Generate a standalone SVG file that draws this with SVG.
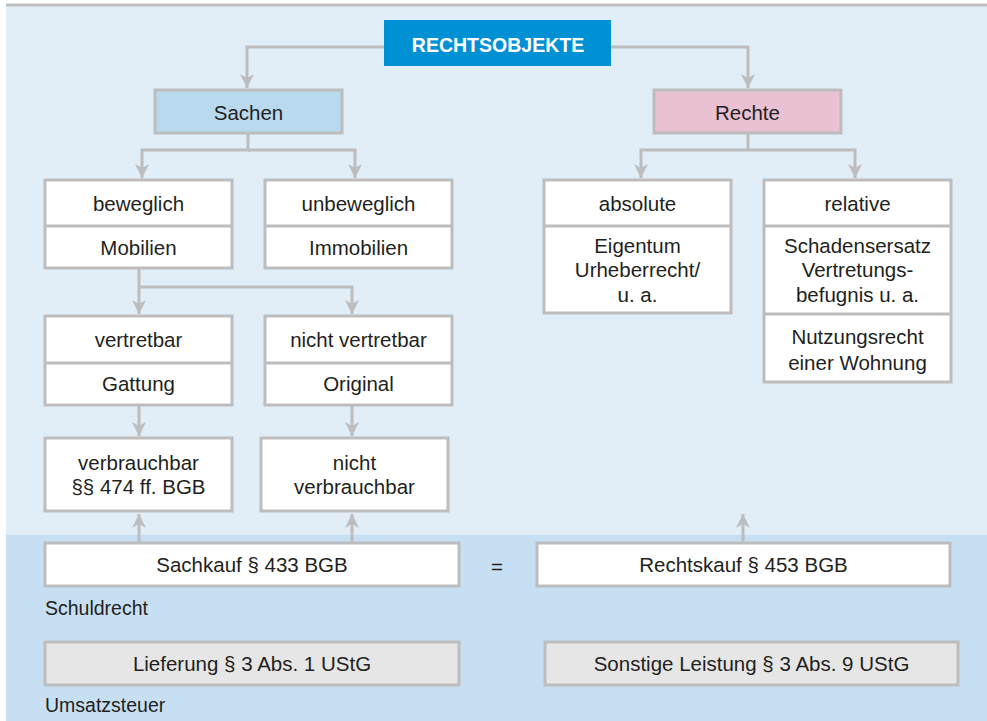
<svg xmlns="http://www.w3.org/2000/svg" width="987" height="721" viewBox="0 0 987 721">
<defs>
<style>
.t{font-family:"Liberation Sans",Arial,sans-serif;font-size:20.5px;fill:#231f20;text-anchor:middle}
.l{font-family:"Liberation Sans",Arial,sans-serif;font-size:19.5px;fill:#231f20}
.b{fill:#fff;stroke:#bdbdbd;stroke-width:3}
.g{fill:#e6e6e6;stroke:#bdbdbd;stroke-width:3}
.c{fill:none;stroke:#bdbdbd;stroke-width:3}
</style>
<marker id="dn" markerWidth="14" markerHeight="16" viewBox="0 0 14 16" refX="7" refY="16" orient="0" markerUnits="userSpaceOnUse">
<path d="M0,2 L7,6 L14,2 L7,16 Z" fill="#bdbdbd"/>
</marker>
<marker id="up" markerWidth="14" markerHeight="16" viewBox="0 0 14 16" refX="7" refY="0" orient="0" markerUnits="userSpaceOnUse">
<path d="M0,14 L7,10 L14,14 L7,0 Z" fill="#bdbdbd"/>
</marker>
</defs>
<rect x="0" y="0" width="987" height="721" fill="#fff"/>
<rect x="6" y="6" width="981" height="530" fill="#e1eef8"/>
<rect x="6" y="535" width="981" height="186" fill="#c7dff2"/>
<line x1="6" y1="5" x2="987" y2="5" stroke="#c0c0c0" stroke-width="3"/>

<g id="connectors">
<path class="c" d="M384,47 H247 V88" marker-end="url(#dn)"/>
<path class="c" d="M611,47 H748 V88" marker-end="url(#dn)"/>
<path class="c" d="M248,134 V150 H142 V178" marker-end="url(#dn)"/>
<path class="c" d="M248,150 H355 V178" marker-end="url(#dn)"/>
<path class="c" d="M748,134 V150 H641 V178" marker-end="url(#dn)"/>
<path class="c" d="M748,150 H855 V178" marker-end="url(#dn)"/>
<path class="c" d="M139,269 V287 V314" marker-end="url(#dn)"/>
<path class="c" d="M139,287 H352 V314" marker-end="url(#dn)"/>
<path class="c" d="M139,406 V436" marker-end="url(#dn)"/>
<path class="c" d="M352,406 V436" marker-end="url(#dn)"/>
<path class="c" d="M139,542 V514" marker-end="url(#up)"/>
<path class="c" d="M352,542 V514" marker-end="url(#up)"/>
<path class="c" d="M743,542 V514" marker-end="url(#up)"/>
</g>

<g id="rechtsobjekte">
<rect x="384" y="20" width="227" height="46" fill="#0090d4"/>
<text x="498" y="52" class="t" style="fill:#fff;font-weight:bold;font-size:19.5px">RECHTSOBJEKTE</text>
</g>
<g id="sachen">
<rect x="155" y="90" width="187" height="43" fill="#b9d9ee" stroke="#bdbdbd" stroke-width="3"/>
<text x="248.5" y="120" class="t">Sachen</text>
</g>
<g id="rechte">
<rect x="654" y="90" width="187" height="43" fill="#eac0d3" stroke="#bdbdbd" stroke-width="3"/>
<text x="747.5" y="120" class="t">Rechte</text>
</g>

<g id="beweglich">
<rect class="b" x="45" y="180" width="187" height="88"/>
<line class="c" x1="45" y1="226" x2="232" y2="226"/>
<text x="138.5" y="211" class="t">beweglich</text>
<text x="138.5" y="255" class="t">Mobilien</text>
</g>
<g id="unbeweglich">
<rect class="b" x="265" y="180" width="187" height="88"/>
<line class="c" x1="265" y1="226" x2="452" y2="226"/>
<text x="358.5" y="211" class="t">unbeweglich</text>
<text x="358.5" y="255" class="t">Immobilien</text>
</g>
<g id="absolute">
<rect class="b" x="544" y="180" width="187" height="133"/>
<line class="c" x1="544" y1="226" x2="731" y2="226"/>
<text x="637.5" y="211" class="t">absolute</text>
<text x="637.5" y="253" class="t">Eigentum</text>
<text x="637.5" y="277" class="t">Urheberrecht/</text>
<text x="637.5" y="302" class="t">u. a.</text>
</g>
<g id="relative">
<rect class="b" x="764" y="180" width="187" height="202"/>
<line class="c" x1="764" y1="226" x2="951" y2="226"/>
<line class="c" x1="764" y1="314" x2="951" y2="314"/>
<text x="857.5" y="211" class="t">relative</text>
<text x="857.5" y="253" class="t">Schadensersatz</text>
<text x="857.5" y="277" class="t">Vertretungs-</text>
<text x="857.5" y="302" class="t">befugnis u. a.</text>
<text x="857.5" y="344" class="t">Nutzungsrecht</text>
<text x="857.5" y="370" class="t">einer Wohnung</text>
</g>

<g id="vertretbar">
<rect class="b" x="45" y="316" width="187" height="89"/>
<line class="c" x1="45" y1="363" x2="232" y2="363"/>
<text x="138.5" y="347" class="t">vertretbar</text>
<text x="138.5" y="391" class="t">Gattung</text>
</g>
<g id="nichtvertretbar">
<rect class="b" x="265" y="316" width="187" height="89"/>
<line class="c" x1="265" y1="363" x2="452" y2="363"/>
<text x="358.5" y="347" class="t">nicht vertretbar</text>
<text x="358.5" y="391" class="t">Original</text>
</g>

<g id="verbrauchbar">
<rect class="b" x="45" y="438" width="187" height="73"/>
<text x="138.5" y="470" class="t">verbrauchbar</text>
<text x="138.5" y="494" class="t">§§ 474 ff. BGB</text>
</g>
<g id="nichtverbrauchbar">
<rect class="b" x="261" y="438" width="187" height="73"/>
<text x="354.5" y="470" class="t">nicht</text>
<text x="354.5" y="494" class="t">verbrauchbar</text>
</g>

<g id="sachkauf">
<rect class="b" x="45" y="543" width="414" height="43"/>
<text x="252" y="572" class="t">Sachkauf § 433 BGB</text>
</g>
<text x="497" y="574" class="t">=</text>
<g id="rechtskauf">
<rect class="b" x="537" y="543" width="413" height="43"/>
<text x="743.5" y="572" class="t">Rechtskauf § 453 BGB</text>
</g>
<text x="45" y="615" class="l">Schuldrecht</text>

<g id="lieferung">
<rect class="g" x="45" y="642" width="414" height="43"/>
<text x="252" y="671" class="t">Lieferung § 3 Abs. 1 UStG</text>
</g>
<g id="sonstige">
<rect class="g" x="545" y="642" width="413" height="43"/>
<text x="751.5" y="671" class="t">Sonstige Leistung § 3 Abs. 9 UStG</text>
</g>
<text x="45" y="712" class="l">Umsatzsteuer</text>
</svg>
